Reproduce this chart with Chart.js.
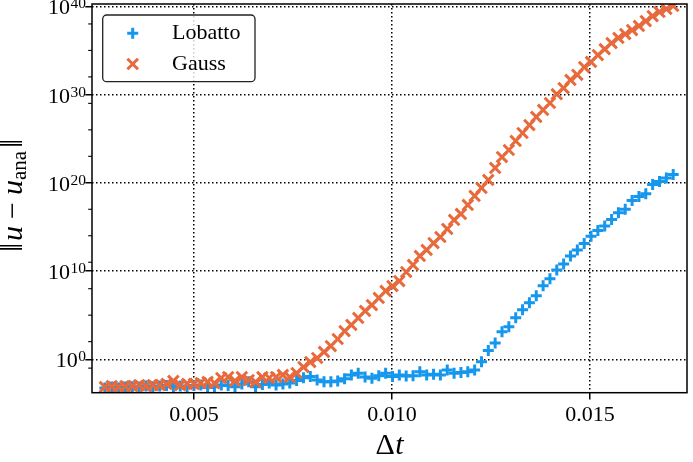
<!DOCTYPE html>
<html><head><meta charset="utf-8">
<script src="https://cdn.jsdelivr.net/npm/chart.js@4.4.0/dist/chart.umd.min.js"></script>
<style>html,body{margin:0;padding:0;background:#fff;}canvas{display:block;}</style>
</head><body>
<canvas id="c" width="693" height="462" style="width:693px;height:462px"></canvas>
<script>
// ---- data ----
const dtValues = [
0.002750,0.002923,0.003096,0.003269,0.003442,0.003615,0.003787,0.003960,0.004133,0.004306,
0.004479,0.004652,0.004825,0.004998,0.005171,0.005344,0.005516,0.005689,0.005862,0.006035,
0.006208,0.006381,0.006554,0.006727,0.006900,0.007073,0.007245,0.007418,0.007591,0.007764,
0.007937,0.008110,0.008283,0.008456,0.008629,0.008802,0.008974,0.009147,0.009320,0.009493,
0.009666,0.009839,0.010012,0.010185,0.010358,0.010531,0.010703,0.010876,0.011049,0.011222,
0.011395,0.011568,0.011741,0.011914,0.012087,0.012260,0.012432,0.012605,0.012778,0.012951,
0.013124,0.013297,0.013470,0.013643,0.013816,0.013989,0.014161,0.014334,0.014507,0.014680,
0.014853,0.015026,0.015199,0.015372,0.015545,0.015718,0.015890,0.016063,0.016236,0.016409,
0.016582,0.016755,0.016928,0.017101];

const lobattoError = [
5.6e-4,7.2e-4,5.6e-4,7.2e-4,7.9e-4,7.2e-4,9.3e-4,7.9e-4,9.3e-4,1.1e-3,
7.9e-4,9.3e-4,7.9e-4,1.1e-3,1.2e-3,6.3e-4,7.9e-4,1.2e-3,1.1e-3,7.9e-4,
1.6e-3,2.9e-3,7.9e-4,1.4e-3,2.0e-3,1.2e-3,1.6e-3,2.0e-3,4.0e-3,7.9e-3,
1.1e-2,4.5e-3,2.9e-3,2.9e-3,3.5e-3,6.3e-3,1.7e-2,2.6e-2,1.0e-2,7.1e-3,
1.4e-2,2.6e-2,1.1e-2,1.7e-2,1.3e-2,1.4e-2,3.9e-2,1.7e-2,2.0e-2,1.7e-2,
6.2e-2,2.6e-2,3.2e-2,3.9e-2,6.2e-2,0.54,10,71,1.3e3,5.0e3,
5.0e4,4.0e5,2.5e6,1.6e7,2.2e8,1.3e9,1.3e10,6.3e10,5.0e11,2.5e12,
1.3e13,8.9e13,4.0e14,1.3e15,7.1e15,4.0e16,1.0e17,1.0e18,2.8e18,5.6e18,
6.3e19,1.4e20,3.5e20,8.9e20];

const gaussError = [
7.2e-4,9.3e-4,7.2e-4,9.3e-4,9.3e-4,1.2e-3,9.3e-4,1.2e-3,1.2e-3,1.6e-3,
3.5e-3,1.2e-3,1.6e-3,1.6e-3,2.0e-3,2.7e-3,2.0e-3,7.6e-3,9.8e-3,3.5e-3,
9.8e-3,4.5e-3,2.7e-3,9.8e-3,7.6e-3,9.8e-3,1.7e-2,9.8e-3,2.8e-2,1.3e-1,
4.9e-1,1.4,6.8,32,200,1.6e3,7.8e3,4.8e4,3.0e5,1.4e6,
8.9e6,5.5e7,2.0e8,7.4e8,7.8e9,4.9e10,5.1e11,2.5e12,1.5e13,7.2e13,
5.9e14,6.2e15,3.0e16,3.1e17,3.2e18,2.6e19,2.1e20,4.8e21,8.3e22,5.2e23,
5.5e24,4.4e25,3.5e26,2.9e27,1.8e28,1.1e29,1.1e30,5.5e30,4.5e31,1.7e32,
1.3e33,4.9e33,3.0e34,1.4e35,6.9e35,2.6e36,7.2e36,2.0e37,5.9e37,2.1e38,
7.9e38,2.3e39,5.0e39,1.1e40];

const seriesNames = ['Lobatto', 'Gauss'];
const xTickValues = [0.005, 0.010, 0.015];
const xTickLabels = ['0.005', '0.010', '0.015'];
const yMajorExponents = [0, 10, 20, 30, 40];
const yMinorExponents = [-1, 2, 5, 8, 11, 14, 17, 23, 26, 29, 32, 35, 38];
const xAxisTitle = ['Δ', 't'];
const yAxisTitle = ['‖', 'u', '−', 'u', 'ana', '‖'];

// ---- styling ----
const SERIF = '"Liberation Serif","DejaVu Serif",serif';
const BLUE = '#1597ee';
const ORANGE = '#e8693b';

const toPoints = ys => dtValues.map((x, i) => ({x: x, y: ys[i]}));

function drawRuns(ctx, runs, cx, baseY) {
  let total = 0;
  runs.forEach(r => { ctx.font = r.font; r.w = ctx.measureText(r.text).width; total += r.w + (r.gap || 0); });
  let x = cx - total / 2;
  runs.forEach(r => { ctx.font = r.font; ctx.fillText(r.text, x, baseY + (r.dy || 0)); x += r.w + (r.gap || 0); });
}

const decor = {
  id: 'decor',
  afterDraw(chart) {
    const ctx = chart.ctx, ca = chart.chartArea, xs = chart.scales.x, ys = chart.scales.y;
    ctx.save();
    // spines
    ctx.strokeStyle = '#000'; ctx.lineWidth = 1.5; ctx.setLineDash([]);
    ctx.strokeRect(ca.left, ca.top, ca.right - ca.left, ca.bottom - ca.top);
    // minor y ticks
    ctx.lineWidth = 1.1;
    yMinorExponents.forEach(e => {
      const p = ys.getPixelForValue(Math.pow(10, e));
      if (p < ca.top || p > ca.bottom) return;
      ctx.beginPath(); ctx.moveTo(ca.left - 3.8, p); ctx.lineTo(ca.left, p); ctx.stroke();
    });
    // y tick labels 10^k
    ctx.fillStyle = '#000'; ctx.textAlign = 'right'; ctx.textBaseline = 'alphabetic';
    yMajorExponents.forEach(e => {
      const p = ys.getPixelForValue(Math.pow(10, e));
      const right = ca.left - 6;
      ctx.font = '15.5px ' + SERIF;
      const sw = ctx.measureText(String(e)).width;
      ctx.fillText(String(e), right, p + 2);
      ctx.font = '22px ' + SERIF;
      ctx.fillText('10', right - sw - 0.5, p + 8);
    });
    // x tick labels
    ctx.textAlign = 'center';
    ctx.font = '22px ' + SERIF;
    xTickValues.forEach((v, i) => {
      ctx.fillText(xTickLabels[i], xs.getPixelForValue(v), 421);
    });
    // x axis title
    ctx.textAlign = 'left';
    drawRuns(ctx, [
      {text: xAxisTitle[0], font: '30px ' + SERIF, gap: 0.5},
      {text: xAxisTitle[1], font: 'italic 30px ' + SERIF}
    ], (ca.left + ca.right) / 2, 454);
    // y axis title
    ctx.save();
    ctx.translate(0, (ca.top + ca.bottom) / 2 - 3);
    ctx.rotate(-Math.PI / 2);
    drawRuns(ctx, [
      {text: yAxisTitle[0], font: '32px ' + SERIF, gap: 2},
      {text: yAxisTitle[1], font: 'italic 30px ' + SERIF, gap: 7},
      {text: yAxisTitle[2], font: '30px ' + SERIF, gap: 7},
      {text: yAxisTitle[3], font: 'italic 30px ' + SERIF, gap: 0},
      {text: yAxisTitle[4], font: '21px ' + SERIF, dy: 4, gap: 3},
      {text: yAxisTitle[5], font: '32px ' + SERIF}
    ], 0, 22);
    ctx.restore();
    // legend
    const bx = 102.7, by = 15, bw = 152.3, bh = 66.7, r = 4;
    ctx.beginPath();
    ctx.moveTo(bx + r, by); ctx.lineTo(bx + bw - r, by); ctx.arcTo(bx + bw, by, bx + bw, by + r, r);
    ctx.lineTo(bx + bw, by + bh - r); ctx.arcTo(bx + bw, by + bh, bx + bw - r, by + bh, r);
    ctx.lineTo(bx + r, by + bh); ctx.arcTo(bx, by + bh, bx, by + bh - r, r);
    ctx.lineTo(bx, by + r); ctx.arcTo(bx, by, bx + r, by, r); ctx.closePath();
    ctx.fillStyle = 'rgba(255,255,255,0.8)'; ctx.fill();
    ctx.strokeStyle = '#222'; ctx.lineWidth = 1.3; ctx.stroke();
    const ds = chart.data.datasets;
    const rows = [{y: 33.3, ds: ds[0], ty: 39}, {y: 64, ds: ds[1], ty: 69.5}];
    rows.forEach(row => {
      ctx.strokeStyle = row.ds.borderColor; ctx.lineWidth = row.ds.pointBorderWidth;
      Chart.helpers.drawPoint(ctx, {pointStyle: row.ds.pointStyle, radius: row.ds.pointRadius, rotation: 0, borderWidth: row.ds.pointBorderWidth}, 132.7, row.y);
      ctx.fillStyle = '#000'; ctx.textAlign = 'left'; ctx.font = '22px ' + SERIF;
      ctx.fillText(row.ds.label, 172, row.ty);
    });
    ctx.restore();
  }
};

const gridOpts = {
  color: '#000', lineWidth: 1.5,
  drawTicks: true, tickLength: 6.7, tickColor: '#000', tickWidth: 1.5, tickBorderDash: []
};
const borderOpts = {display: false, dash: [1.5, 2.5]};

new Chart(document.getElementById('c'), {
  type: 'scatter',
  data: {
    datasets: [
      {label: seriesNames[0], data: toPoints(lobattoError), pointStyle: 'cross', pointRadius: 5.5, pointBorderWidth: 3,
       borderColor: BLUE, backgroundColor: BLUE, showLine: false, order: 1, clip: 0},
      {label: seriesNames[1], data: toPoints(gaussError), pointStyle: 'crossRot', pointRadius: 7.5, pointBorderWidth: 3,
       borderColor: ORANGE, backgroundColor: ORANGE, showLine: false, order: 0, clip: 0}
    ]
  },
  options: {
    responsive: false, devicePixelRatio: 1, animation: false, events: [],
    layout: {autoPadding: false, padding: {top: 4, right: 6, bottom: 0, left: 0}},
    plugins: {legend: {display: false}, tooltip: {enabled: false}},
    scales: {
      x: {
        type: 'linear', min: 0.0024242, max: 0.0174495,
        afterBuildTicks(s) { s.ticks = xTickValues.map(v => ({value: v})); },
        ticks: {display: false},
        grid: gridOpts, border: borderOpts,
        afterFit(s) { s.height = 69.3; }
      },
      y: {
        type: 'logarithmic', min: Math.pow(10, -3.785), max: Math.pow(10, 40.26),
        afterBuildTicks(s) { s.ticks = yMajorExponents.map(e => ({value: Math.pow(10, e)})); },
        ticks: {display: false},
        grid: gridOpts, border: borderOpts,
        afterFit(s) { s.width = 92; }
      }
    }
  },
  plugins: [decor]
});
</script>
</body></html>
